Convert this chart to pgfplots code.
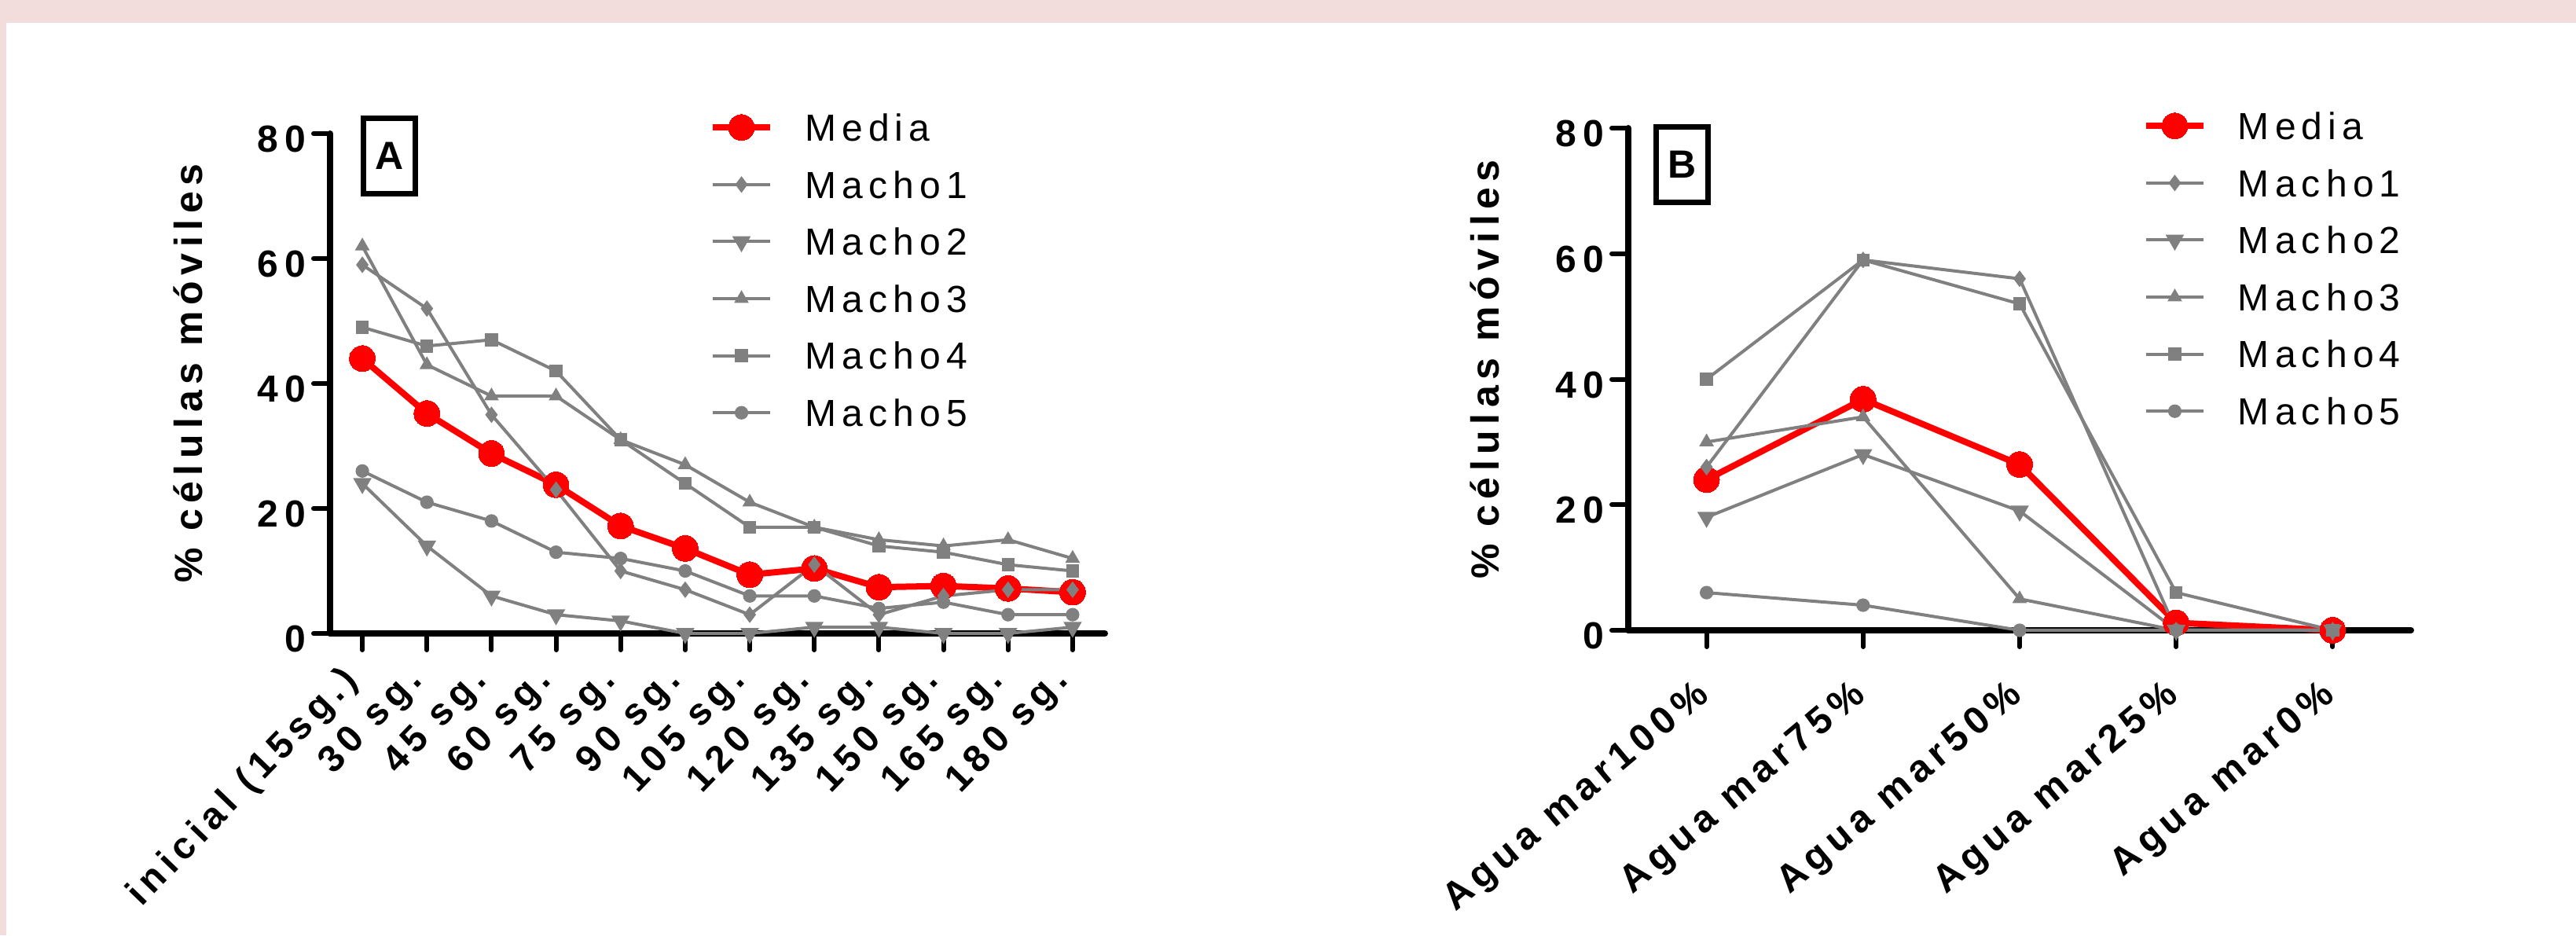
\documentclass[border=0pt]{standalone}
\usepackage{pgfplots}
\pgfplotsset{compat=1.18}
\usepackage{pgfplotstable}
\usepackage{fontspec}
\setmainfont{Liberation Sans}
\newfontfamily\tickfont[LetterSpace=17]{Liberation Sans}
\newfontfamily\ylabfont[LetterSpace=15]{Liberation Sans}
\newfontfamily\labfont[LetterSpace=15]{Liberation Sans}
\newfontfamily\legfont[LetterSpace=15]{Liberation Sans}
\definecolor{pinkbg}{RGB}{242,220,220}
\definecolor{lgray}{RGB}{128,128,128}
\definecolor{mred}{RGB}{255,0,0}

\pgfplotstableread{
x media m1 m2 m3 m4 m5
0 44   59 24 62 49 26
1 35.2 52 14 43 46 21
2 28.8 35 6  38 47 18
3 23.8 23 3  38 42 13
4 17.2 10 2  31 31 12
5 13.6 7  0  27 24 10
6 9.4  3  0  21 17 6
7 10.4 11 1  17 17 6
8 7.4  3  1  15 14 4
9 7.6  6  0  14 13 5
10 7.2 7  0  15 11 3
11 6.6 7  1  12 10 3
}\dataA

\pgfplotstableread{
x media m1 m2 m3 m4 m5
0 24   26 18 30 40 6
1 36.8 59 28 34 59 4
2 26.4 56 19 5  52 0
3 1.2  0  0  0  6  0
4 0    0  0  0  0  0
}\dataB

\pgfplotsset{
  panel/.style={
    scale only axis, clip=false,
    axis x line*=bottom, axis y line*=left,
    axis line style={line width=2pt, line cap=round},
    tick align=outside, major tick length=5.25pt,
    tick style={line width=1.5pt, black, line cap=round},
    ymin=0, ymax=80, ytick={0,20,40,60,80}, yticklabels={0,20,40,60,80},
    yticklabel style={font={\tickfont\bfseries\fontsize{12}{14}\selectfont}, anchor=east, inner sep=0pt, xshift=-2.3pt, yshift=-1.75pt},
    ylabel={\% células móviles},
    every axis y label/.style={at={(axis description cs:-0.183,0.52)}, rotate=90, anchor=center, font={\ylabfont\bfseries\fontsize{12.5}{14}\selectfont}},
    legend style={draw=none, fill=none, inner sep=0pt, outer sep=0pt, row sep=9.55pt, column sep=10pt,
      font={\legfont\fontsize{12}{14}\selectfont}, nodes={inner sep=0pt, text height=8.6pt, text depth=0pt}, cells={anchor=west}, anchor=north west},
    legend image code/.code={\draw[mark repeat=2,mark phase=2,##1] plot coordinates {(0pt,0pt) (9.125pt,0pt) (18.25pt,0pt)};},
  },
  media/.style={mred, line width=2pt, mark=*, mark size=4.1pt, mark options={fill=mred, draw=mred, line width=0pt}},
  macho/.style={lgray, line width=1pt, mark options={fill=lgray, draw=lgray, line width=0.3pt, solid}},
}

\begin{document}
\begin{tikzpicture}
\fill[pinkbg] (0,0) rectangle (819.5pt,297.5pt);
\fill[white] (2pt,0) rectangle (819.5pt,290.25pt);

\begin{axis}[panel, at={(105pt,96pt)}, anchor=south west, width=246.5pt, height=159pt,
  xmin=-0.5, xmax=11.5, xtick={0,...,11},
  xticklabels={inicial (15sg.),30 sg.,45 sg.,60 sg.,75 sg.,90 sg.,105 sg.,120 sg.,135 sg.,150 sg.,165 sg.,180 sg.},
  xticklabel style={font={\labfont\bfseries\fontsize{12}{14}\selectfont}, anchor=east, inner sep=0pt, xshift=-3.1pt, yshift=-8pt, rotate=46},
  legend style={at={(0.4899,1.0393)}}]
\addplot[media] table[x=x,y=media] {\dataA};
\addplot[macho, mark=diamond*, mark size=2.4pt] table[x=x,y=m1] {\dataA};
\addplot[macho, mark=triangle*, mark size=2.4pt, mark options={rotate=180}] table[x=x,y=m2] {\dataA};
\addplot[macho, mark=triangle*, mark size=2.4pt] table[x=x,y=m3] {\dataA};
\addplot[macho, mark=square*, mark size=1.9pt] table[x=x,y=m4] {\dataA};
\addplot[macho, mark=*, mark size=2pt] table[x=x,y=m5] {\dataA};
\legend{Media,Macho1,Macho2,Macho3,Macho4,Macho5}
\node[draw, line width=1.75pt, minimum width=16.5pt, minimum height=24pt, inner sep=0pt, font={\bfseries\fontsize{12.5}{14}\selectfont}] at (axis description cs:0.0766,0.955) {A};
\end{axis}

\begin{axis}[panel, at={(518pt,97pt)}, anchor=south west, width=249pt, height=159.75pt,
  xmin=-0.5, xmax=4.5, xtick={0,...,4},
  xticklabels={Agua mar100\%,Agua mar75\%,Agua mar50\%,Agua mar25\%,Agua mar0\%},
  xticklabel style={font={\labfont\bfseries\fontsize{12.2}{15}\selectfont}, anchor=east, inner sep=0pt, xshift=-0.55pt, yshift=-14pt, rotate=40},
  legend style={at={(0.6576,1.0313)}}]
\addplot[media] table[x=x,y=media] {\dataB};
\addplot[macho, mark=diamond*, mark size=2.4pt] table[x=x,y=m1] {\dataB};
\addplot[macho, mark=triangle*, mark size=2.4pt, mark options={rotate=180}] table[x=x,y=m2] {\dataB};
\addplot[macho, mark=triangle*, mark size=2.4pt] table[x=x,y=m3] {\dataB};
\addplot[macho, mark=square*, mark size=1.9pt] table[x=x,y=m4] {\dataB};
\addplot[macho, mark=*, mark size=2pt] table[x=x,y=m5] {\dataB};
\legend{Media,Macho1,Macho2,Macho3,Macho4,Macho5}
\node[draw, line width=1.75pt, minimum width=16.5pt, minimum height=24pt, inner sep=0pt, font={\bfseries\fontsize{12.5}{14}\selectfont}] at (axis description cs:0.0688,0.928) {B};
\end{axis}

\pgfresetboundingbox
\path (0,0) rectangle (819.5pt,297.5pt);
\end{tikzpicture}
\end{document}
